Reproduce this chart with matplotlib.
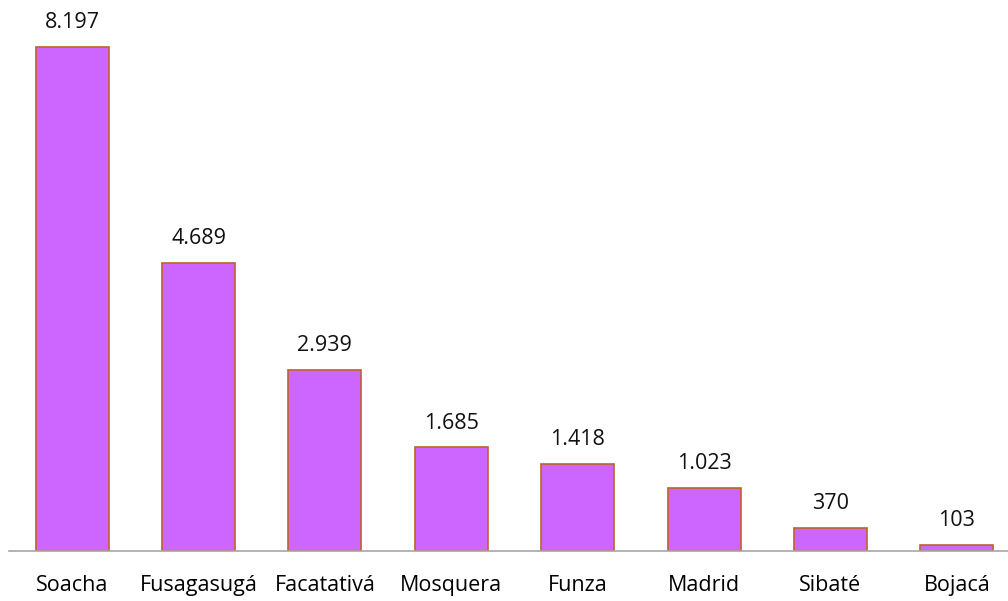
import matplotlib
matplotlib.use("Agg")
import matplotlib.pyplot as plt

municipios = ["Soacha", "Fusagasugá", "Facatativá", "Mosquera", "Funza",
              "Madrid", "Sibaté", "Bojacá"]
valores = [8197, 4689, 2939, 1685, 1418, 1023, 370, 103]

BAR_COLOR = "#CC66FF"
EDGE_COLOR = "#C0622B"

plt.rcParams.update({
    "font.family": ["Open Sans", "DejaVu Sans"],
    "font.size": 15,
})


def fmt_miles(v):
    return f"{v:,}".replace(",", ".")


fig = plt.figure(figsize=(10.08, 6.01), dpi=100)
# axes run slightly past the right edge, as in the source
ax = fig.add_axes([9 / 1008, 50 / 601, 1011 / 1008, 551 / 601])

x = list(range(len(municipios)))
ax.bar(x, valores, width=0.578, color=BAR_COLOR, edgecolor=EDGE_COLOR,
       linewidth=1.2, zorder=2)
for xi, v in zip(x, valores):
    ax.annotate(fmt_miles(v), (xi, v), xytext=(0, 10), textcoords="offset points",
                ha="center", va="bottom", fontsize=15.5, color="#111111")

ax.set_xlim(-0.5, len(municipios) - 0.5)
ax.set_ylim(0, 8961)
ax.set_xticks(x)
ax.set_xticklabels(municipios, fontsize=15.5)
ax.tick_params(axis="x", length=0, pad=17)
ax.set_yticks([])
for s in ["top", "right", "left"]:
    ax.spines[s].set_visible(False)
ax.spines["bottom"].set_color("#A6A6A6")
ax.spines["bottom"].set_linewidth(1.2)

fig.savefig("out.png", dpi=100)
